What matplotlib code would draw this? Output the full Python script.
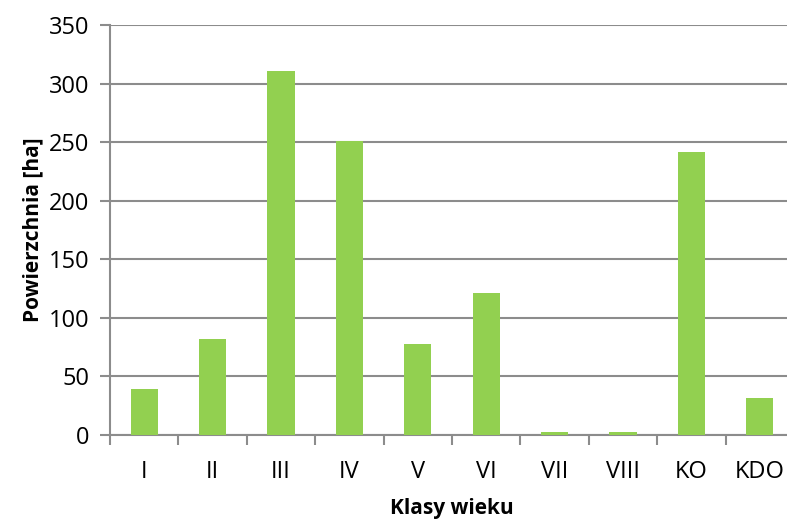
import numpy as np
import matplotlib.pyplot as plt

# age classes and area per class
klasy = ['I', 'II', 'III', 'IV', 'V', 'VI', 'VII', 'VIII', 'KO', 'KDO']
powierzchnia = [39, 82, 311, 251, 78, 121, 2.3, 2.8, 242, 32]

plt.rcParams['font.family'] = ['Open Sans', 'DejaVu Sans']

fig = plt.figure(figsize=(7.87, 5.19), dpi=100)
ax = fig.add_axes([110 / 787, 1 - 435 / 519, 684 / 787, 410 / 519])

x = np.arange(len(klasy))
ax.bar(x, powierzchnia, width=0.4, color='#92D050', zorder=3)

ax.set_xlim(-0.5, len(klasy) - 0.5)
ax.set_ylim(0, 350)
ax.set_yticks(range(0, 351, 50))
ax.yaxis.grid(True, color='#8c8c8c', linewidth=1.5, zorder=0)

# category labels in the middle, tick marks between categories
ax.set_xticks(x)
ax.set_xticklabels(klasy, fontsize=17)
ax.set_xticks(np.arange(-0.5, len(klasy), 1), minor=True)
ax.tick_params(axis='x', which='major', length=0, pad=18)
ax.tick_params(axis='x', which='minor', length=7, width=1.5, color='#8c8c8c')
ax.tick_params(axis='y', length=7, width=1.5, color='#8c8c8c', labelsize=17, pad=8)

for side in ['top', 'right']:
    ax.spines[side].set_visible(False)
for side in ['left', 'bottom']:
    ax.spines[side].set_color('#8c8c8c')
    ax.spines[side].set_linewidth(1.5)

ax.set_xlabel('Klasy wieku', fontsize=15, fontweight='bold', labelpad=10)
ax.set_ylabel('Powierzchnia [ha]', fontsize=15, fontweight='bold', labelpad=4)

fig.savefig('out.png', dpi=100)
